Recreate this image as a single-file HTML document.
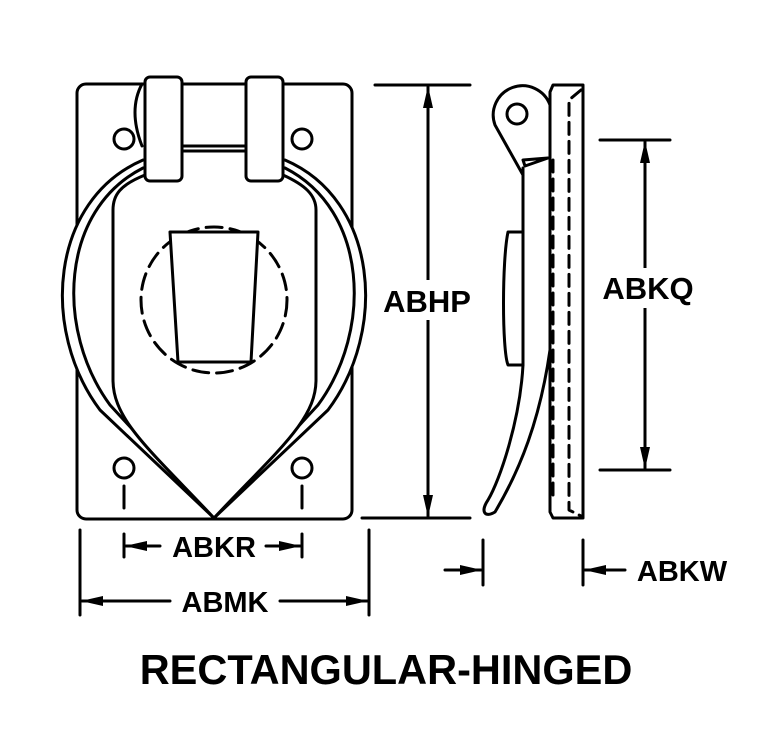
<!DOCTYPE html>
<html><head><style>body{margin:0;background:#fff}svg{display:block}</style></head><body>
<svg width="780" height="750" viewBox="0 0 780 750" xmlns="http://www.w3.org/2000/svg">
<defs><marker id="a" markerWidth="22" markerHeight="10" refX="21" refY="5" orient="auto" markerUnits="userSpaceOnUse"><path d="M0,0 L22,5 L0,10 Z" fill="#000"/></marker></defs>
<g fill="none" stroke="#000" stroke-width="3" stroke-linejoin="round" stroke-linecap="round">
<rect x="77" y="84" width="275" height="435" rx="9"/>
<path d="M142,84 Q128,110 142,146"/>
<circle cx="124" cy="139" r="10"/><circle cx="302" cy="139" r="10"/>
<circle cx="124" cy="468" r="10"/><circle cx="302" cy="468" r="10"/>
<line x1="124" y1="486" x2="124" y2="508"/><line x1="302" y1="486" x2="302" y2="508"/>
<path d="M143,160 C50,200 40,330 100,410 L214,518 L328,410 C388,330 378,200 285,160" fill="#fff"/>
<path d="M143,168 C60,210 55,330 110,405 L214,518 L318,405 C373,330 368,210 285,168"/>
<path d="M145,175 C120,185 113,195 113,210 L113,380 C113,420 150,450 214,518 C278,450 316,420 316,380 L316,210 C316,195 305,185 283,175" fill="#fff"/>
<circle cx="214" cy="300" r="73" stroke-dasharray="16,8"/>
<path d="M170,232 L258,232 L251,362 L178,362 Z" fill="#fff"/>
<rect x="145" y="77" width="37" height="104" rx="5" fill="#fff"/>
<rect x="246" y="77" width="37" height="104" rx="5" fill="#fff"/>
<line x1="182" y1="146" x2="246" y2="146"/><line x1="182" y1="151" x2="246" y2="151"/>
<path d="M553,85 L583,85 L583,518 L553,518 L550,512 L550,92 Z"/>
<path d="M581,90 L569,100 L569,510 L581,516" stroke-dasharray="12,7"/>
<path d="M553,160 L553,500" stroke-dasharray="12,7"/>
<path d="M523,160 L548,158 L525,166 Z"/>
<path d="M523,175 L495,125 A22,22 0 1 1 550,105 L550,160"/>
<circle cx="517" cy="114" r="10"/>
<path d="M523,168 L523,365 C520,420 500,480 488,500 C480,512 485,518 495,512 C520,470 540,420 550,350"/>
<path d="M523,232 L508,232 C502,260 502,350 508,365 L523,365"/>
<line x1="375" y1="85" x2="470" y2="85"/><line x1="362" y1="518" x2="470" y2="518"/>
<line x1="428" y1="300" x2="428" y2="87" marker-end="url(#a)"/><line x1="428" y1="300" x2="428" y2="516" marker-end="url(#a)"/>
<line x1="600" y1="140" x2="670" y2="140"/><line x1="600" y1="470" x2="670" y2="470"/>
<line x1="645" y1="290" x2="645" y2="142" marker-end="url(#a)"/><line x1="645" y1="290" x2="645" y2="468" marker-end="url(#a)"/>
<line x1="124" y1="534" x2="124" y2="557"/><line x1="302" y1="534" x2="302" y2="557"/>
<line x1="160" y1="546" x2="126" y2="546" marker-end="url(#a)"/><line x1="266" y1="546" x2="300" y2="546" marker-end="url(#a)"/>
<line x1="80" y1="530" x2="80" y2="615"/><line x1="369" y1="530" x2="369" y2="615"/>
<line x1="170" y1="601" x2="82" y2="601" marker-end="url(#a)"/><line x1="280" y1="601" x2="367" y2="601" marker-end="url(#a)"/>
<line x1="483" y1="540" x2="483" y2="585"/><line x1="583" y1="540" x2="583" y2="585"/>
<line x1="445" y1="570" x2="481" y2="570" marker-end="url(#a)"/><line x1="625" y1="570" x2="585" y2="570" marker-end="url(#a)"/>
</g>
<rect x="380" y="280" width="96" height="40" fill="#fff"/>
<rect x="598" y="268" width="100" height="40" fill="#fff"/>
<g font-family="Liberation Sans, sans-serif" font-weight="bold" fill="#000">
<text x="427" y="312" font-size="31" text-anchor="middle">ABHP</text>
<text x="648" y="299" font-size="31" text-anchor="middle">ABKQ</text>
<text x="214" y="557" font-size="29" text-anchor="middle">ABKR</text>
<text x="225" y="612" font-size="29" text-anchor="middle">ABMK</text>
<text x="682" y="581" font-size="29" text-anchor="middle">ABKW</text>
<text x="386" y="684" font-size="41.5" text-anchor="middle">RECTANGULAR-HINGED</text>
</g>
</svg>
</body></html>
